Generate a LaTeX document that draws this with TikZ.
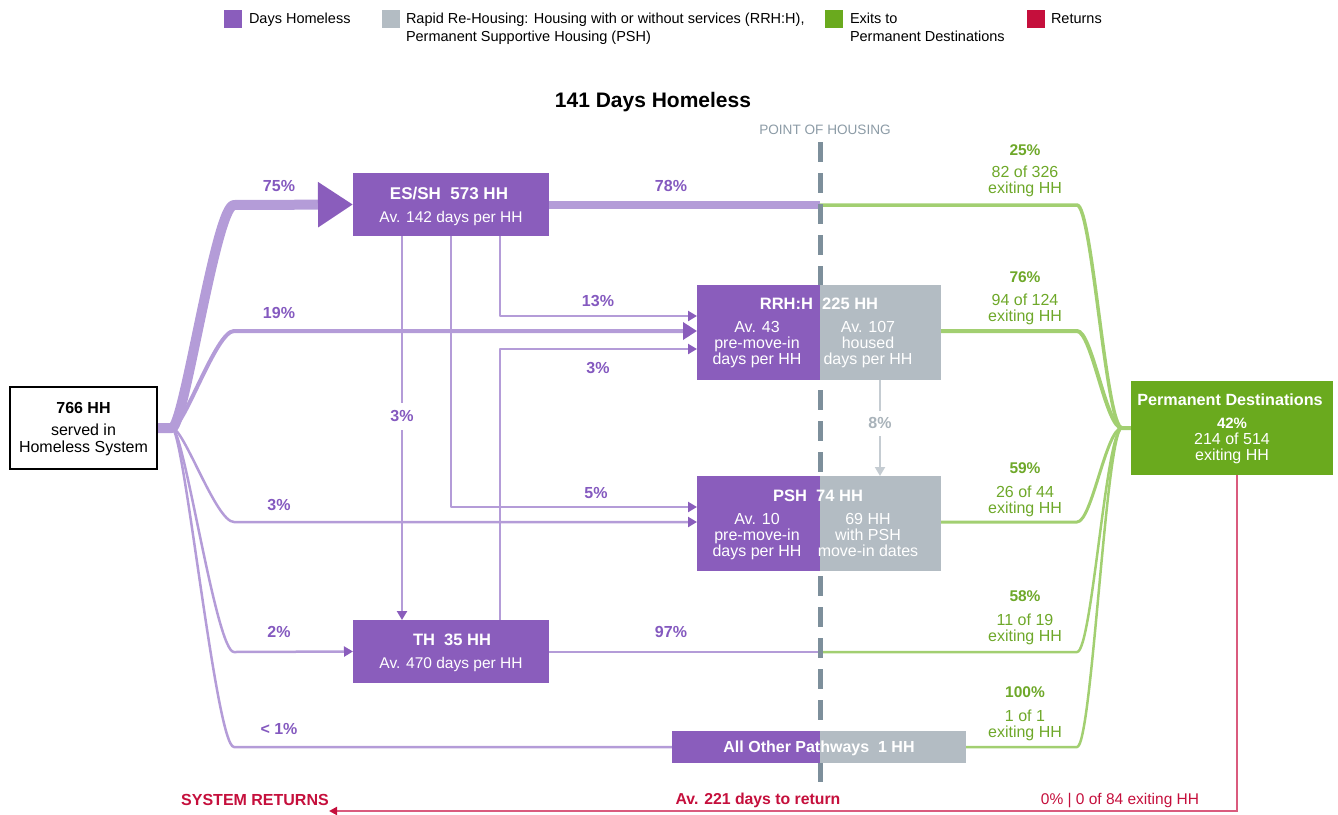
\documentclass[tikz,border=0pt]{standalone}
\usepackage{fontspec}
\setmainfont{Liberation Sans}
\usetikzlibrary{arrows.meta}
\definecolor{pbox}{HTML}{8A5DBC}
\definecolor{pline}{HTML}{B49CD8}
\definecolor{ptext}{HTML}{8459BF}
\definecolor{gbox}{HTML}{B3BCC3}
\definecolor{gline}{HTML}{C5CCD2}
\definecolor{gtext}{HTML}{A9B3BA}
\definecolor{grbox}{HTML}{6AAA1E}
\definecolor{grline}{HTML}{A2CF71}
\definecolor{grtext}{HTML}{6EA829}
\definecolor{rtext}{HTML}{C50F3C}
\definecolor{rline}{HTML}{DA5B7E}
\definecolor{dashc}{HTML}{7D8F9B}
\definecolor{dasht}{HTML}{8C9BA6}
\newcommand\fsz[1]{\fontsize{#1}{#1}\selectfont}
\tikzset{
  pb/.style 2 args={fill=pbox,inner sep=0pt,outer sep=0pt,minimum width=#1,minimum height=#2},
  gb/.style 2 args={fill=gbox,inner sep=0pt,outer sep=0pt,minimum width=#1,minimum height=#2},
  tx/.style={inner sep=0pt,outer sep=0pt,anchor=base,font=\fsz{16}},
  txb/.style={tx,font=\fsz{16.5}\bfseries},
  wt/.style={text=white},
  plab/.style={tx,text=ptext,font=\fsz{16}\bfseries},
  glab/.style={tx,text=grtext,font=\fsz{15.5}\bfseries},
  gsub/.style={tx,text=grtext},
  pflow/.style={draw=pline,line width=2.5pt,line join=round},
  gflow/.style={draw=grline,line width=2.5pt,line join=round},
  sarrow/.style={-{Triangle[length=9pt,width=10pt,color=pbox]}},
  legsq/.style={inner sep=0pt,outer sep=0pt,minimum size=18pt}
}
\begin{document}
\begin{tikzpicture}[x=1pt,y=-1pt]
\useasboundingbox (0,0) rectangle (1338,814);

% ---------- boxes (positions) ----------
\node[draw=black,line width=2pt,fill=white,minimum width=147pt,minimum height=82pt,inner sep=0pt] (hh) at (83.5,428) {};
\node[pb={196pt}{63pt}] (es) at (451,204.5) {};
\node[pb={196pt}{63pt}] (th) at (451,651.5) {};
\node[pb={123pt}{95pt}] (rrhP) at (758.5,332.5) {};
\node[gb={121pt}{95pt}] (rrhG) at (880.5,332.5) {};
\node[pb={123pt}{95pt}] (pshP) at (758.5,523.5) {};
\node[gb={121pt}{95pt}] (pshG) at (880.5,523.5) {};
\node[pb={148pt}{32pt}] (aoP) at (746,747) {};
\node[gb={146pt}{32pt}] (aoG) at (893,747) {};
\node[fill=grbox,inner sep=0pt,minimum width=202pt,minimum height=94pt] (pd) at (1232,428) {};

\coordinate (fan) at (172,428);
\coordinate (hous1) at (820,205);
\coordinate (hous4) at (820,652);
\coordinate (conv) at (1122,428);
\coordinate (retend) at (329,811);
\coordinate (dtop) at (820,142);
\coordinate (dbot) at (820,784);

% ---------- left fan ----------
\draw[pflow,line width=10pt,-{Triangle[length=35pt,width=43pt,color=pbox]}]
  (hh.east) -- (fan) .. controls (184,428) and (216,205) .. (234,205) -- (es.west);
\draw[pflow,line width=4pt,-{Triangle[length=14pt,width=17pt,color=pbox]}]
  (hh.east) -- (fan) .. controls (184,428) and (216,331) .. (234,331) -- (rrhP.west |- 0,331);
\draw[pflow,sarrow]
  (hh.east) -- (fan) .. controls (184,428) and (216,522) .. (234,522) -- (pshP.west |- 0,522);
\draw[pflow,sarrow]
  (hh.east) -- (fan) .. controls (184,428) and (216,652) .. (234,652) -- (th.west);
\draw[pflow]
  (hh.east) -- (fan) .. controls (184,428) and (216,747) .. (234,747) -- (aoP.west);

% ---------- internal flows ----------
\draw[pflow,sarrow] (es.south -| 402,0) -- node[plab,pos=0.47,anchor=center,fill=white,inner xsep=2pt,inner ysep=8pt] (l3b) {3\%} (th.north -| 402,0);
\draw[pflow,sarrow] (es.south -| 451,0) -- (451,507) -- (pshP.west |- 0,507);
\draw[pflow,sarrow] (es.south -| 500,0) -- (500,316) -- (rrhP.west |- 0,316);
\draw[pflow,sarrow] (th.north -| 500,0) -- (500,349) -- (rrhP.west |- 0,349);
\draw[draw=gline,line width=2pt,-{Triangle[length=9pt,width=10pt,color=gline]}]
  (rrhG.south -| 880,0) -- node[tx,pos=0.45,anchor=center,fill=white,text=gtext,font=\fsz{16}\bfseries,inner xsep=2pt,inner ysep=7pt] (l8) {8\%} (pshG.north -| 880,0);

\draw[pflow,line width=8pt] (es.east |- hous1) -- (hous1);
\draw[pflow] (th.east |- hous4) -- (hous4);

% ---------- exits ----------
\draw[gflow,line width=3.5pt] (hous1) -- (1077,205) .. controls (1092,205) and (1106,428) .. (conv) -- (pd.west);
\draw[gflow,line width=4pt] (rrhG.east |- 0,331) -- (1077,331) .. controls (1092,331) and (1106,428) .. (conv) -- (pd.west);
\draw[gflow,line width=3pt] (pshG.east |- 0,522) -- (1077,522) .. controls (1092,522) and (1106,428) .. (conv) -- (pd.west);
\draw[gflow] (hous4) -- (1077,652) .. controls (1092,652) and (1106,428) .. (conv) -- (pd.west);
\draw[gflow] (aoG.east) -- (1077,747) .. controls (1092,747) and (1106,428) .. (conv) -- (pd.west);

% ---------- returns ----------
\draw[draw=rline,line width=2pt,-{Triangle[length=8pt,width=8pt,color=rtext]}]
  (pd.south -| 1237,0) -- (1237,811) -- (retend);

% ---------- point of housing ----------
\draw[dashc,line width=5pt,dash pattern=on 20pt off 11pt] (dtop) -- (dbot);

% redraw boxes on top
\node[pb={196pt}{63pt}] (es2) at (es) {};
\node[pb={196pt}{63pt}] (th2) at (th) {};
\node[pb={123pt}{95pt}] (rrhP2) at (rrhP) {};
\node[gb={121pt}{95pt}] (rrhG2) at (rrhG) {};
\node[pb={123pt}{95pt}] (pshP2) at (pshP) {};
\node[gb={121pt}{95pt}] (pshG2) at (pshG) {};
\node[pb={148pt}{32pt}] (aoP2) at (aoP) {};
\node[gb={146pt}{32pt}] (aoG2) at (aoG) {};

% ---------- legend ----------
\node[legsq,fill=pbox] (lg1) at (233,19) {};
\node[tx,anchor=base west,font=\fsz{14.5}] (lg1t) at (249,23.5) {Days Homeless};
\node[legsq,fill=gbox] (lg2) at (391,19) {};
\node[tx,anchor=base west,font=\fsz{14.5}] (lg2t) at (406,23.5) {Rapid Re-Housing: Housing with or without services (RRH:H),};
\node[tx,anchor=base west,font=\fsz{14.5}] (lg2u) at (406,41.5) {Permanent Supportive Housing (PSH)};
\node[legsq,fill=grbox] (lg3) at (834,19) {};
\node[tx,anchor=base west,font=\fsz{14.5}] (lg3t) at (850,23.5) {Exits to};
\node[tx,anchor=base west,font=\fsz{14.5}] (lg3u) at (850,41.5) {Permanent Destinations};
\node[legsq,fill=rtext] (lg4) at (1036,19) {};
\node[tx,anchor=base west,font=\fsz{14.5}] (lg4t) at (1051,23.5) {Returns};

% ---------- titles ----------
\node[tx,font=\fsz{21}\bfseries] (title) at (653,107) {141 Days Homeless};
\node[tx,text=dasht,font=\fsz{13.6}] (poh) at (825,134) {POINT OF HOUSING};

% ---------- box texts ----------
\node[txb,font=\fsz{16}\bfseries] (hh1) at (83.5,413) {766 HH};
\node[tx] (hh2) at (83.5,435) {served in};
\node[tx] (hh3) at (83.5,452) {Homeless System};

\node[txb,wt,font=\fsz{17}\bfseries] (es1) at (449,199.5) {ES/SH\ \ 573 HH};
\node[tx,wt,font=\fsz{15.5}] (es3) at (451,222) {Av. 142 days per HH};
\node[txb,wt] (th1) at (452,645.5) {TH\ \ 35 HH};
\node[tx,wt,font=\fsz{15.5}] (th3) at (451,668) {Av. 470 days per HH};

\node[txb,wt] (rr1) at (819,309) {RRH:H\ \ 225 HH};
\node[tx,wt] (rr2) at (757,332.5) {Av. 43};
\node[tx,wt] (rr3) at (757,348.5) {pre-move-in};
\node[tx,wt] (rr4) at (757,364.5) {days per HH};
\node[tx,wt] (rr5) at (868,332.5) {Av. 107};
\node[tx,wt] (rr6) at (868,348.5) {housed};
\node[tx,wt] (rr7) at (868,364.5) {days per HH};

\node[txb,wt] (ps1) at (818,501) {PSH\ \ 74 HH};
\node[tx,wt] (ps2) at (757,524.5) {Av. 10};
\node[tx,wt] (ps3) at (757,540.5) {pre-move-in};
\node[tx,wt] (ps4) at (757,556.5) {days per HH};
\node[tx,wt] (ps5) at (868,524.5) {69 HH};
\node[tx,wt] (ps6) at (868,540.5) {with PSH};
\node[tx,wt] (ps7) at (868,556.5) {move-in dates};

\node[txb,wt,font=\fsz{16}\bfseries] (ao1) at (819,752) {All Other Pathways\ \ 1 HH};

\node[txb,wt,font=\fsz{16.2}\bfseries] (pd1) at (1230,405.5) {Permanent Destinations};
\node[tx,wt,font=\fsz{15}\bfseries] (pd2) at (1232,428) {42\%};
\node[tx,wt] (pd3) at (1232,444.5) {214 of 514};
\node[tx,wt] (pd4) at (1232,460.5) {exiting HH};

% ---------- flow labels ----------
\node[plab] (l75) at (279,191.5) {75\%};
\node[plab] (l78) at (671,191.5) {78\%};
\node[plab] (l19) at (279,318.5) {19\%};
\node[plab] (l13) at (598,306.5) {13\%};
\node[plab] (l3a) at (598,373.5) {3\%};
\node[plab] (l3c) at (279,510.5) {3\%};
\node[plab] (l5) at (596,498.5) {5\%};
\node[plab] (l2) at (279,637.5) {2\%};
\node[plab] (l97) at (671,637.5) {97\%};
\node[plab] (l1) at (279,734.5) {< 1\%};

\node[glab] (g25) at (1025,155.5) {25\%};
\node[gsub] (g25a) at (1025,177.5) {82 of 326};
\node[gsub] (g25b) at (1025,193.5) {exiting HH};
\node[glab] (g76) at (1025,282.5) {76\%};
\node[gsub] (g76a) at (1025,305.5) {94 of 124};
\node[gsub] (g76b) at (1025,321.5) {exiting HH};
\node[glab] (g59) at (1025,473.5) {59\%};
\node[gsub] (g59a) at (1025,497.5) {26 of 44};
\node[gsub] (g59b) at (1025,513.5) {exiting HH};
\node[glab] (g58) at (1025,601.5) {58\%};
\node[gsub] (g58a) at (1025,625.5) {11 of 19};
\node[gsub] (g58b) at (1025,641.5) {exiting HH};
\node[glab] (g100) at (1025,697.5) {100\%};
\node[gsub] (g100a) at (1025,721.5) {1 of 1};
\node[gsub] (g100b) at (1025,737.5) {exiting HH};

% ---------- returns labels ----------
\node[tx,text=rtext,font=\fsz{16}\bfseries] (sr) at (255,805) {SYSTEM RETURNS};
\node[tx,text=rtext,font=\fsz{15.8}\bfseries] (ar) at (758,804) {Av. 221 days to return};
\node[tx,text=rtext,font=\fsz{15.5}] (zr) at (1120,804) {0\% | 0 of 84 exiting HH};
\end{tikzpicture}
\end{document}
